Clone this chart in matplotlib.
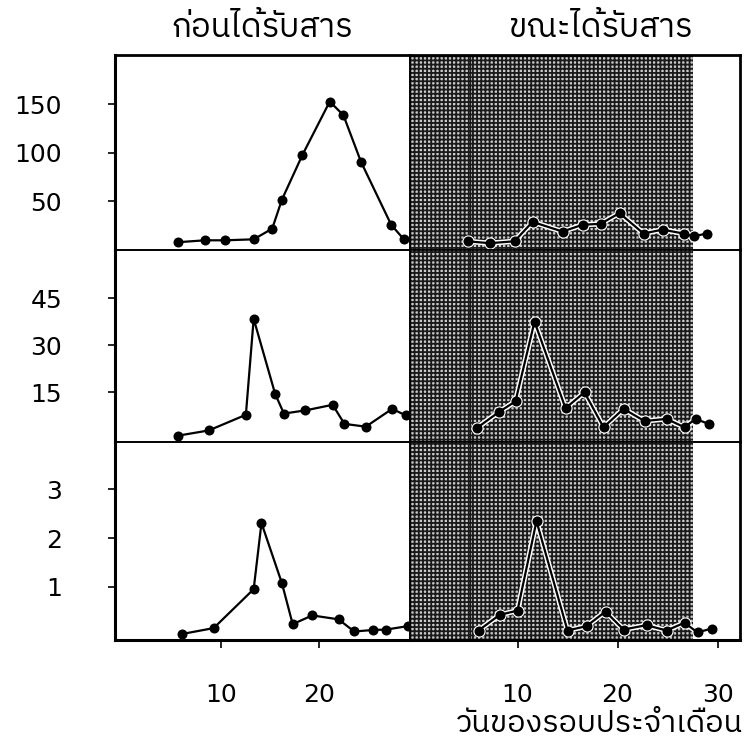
import matplotlib
matplotlib.use('Agg')
import matplotlib.pyplot as plt
from matplotlib import font_manager
from matplotlib.ft2font import FT2Font


# day of cycle / value, one pair of lists per panel
before_top_days = [5.5, 8.3, 10.4, 13.3, 15.2, 16.2, 18.3, 21.1, 22.5, 24.3, 27.4, 28.7]
before_top_vals = [8, 10, 10, 11, 22, 52, 98, 153, 139, 91, 26, 11]
during_top_days = [5.0, 7.2, 9.7, 11.5, 14.5, 16.5, 18.3, 20.2, 22.6, 24.5, 26.6, 27.6, 28.9]
during_top_vals = [9, 7, 9, 29, 19, 26, 27, 38, 17, 21, 17, 14, 17]

before_mid_days = [5.5, 8.7, 12.5, 13.3, 15.5, 16.4, 18.6, 21.4, 22.6, 24.8, 27.5, 28.9]
before_mid_vals = [1.1, 2.8, 7.8, 38.5, 14.5, 8.2, 9.2, 11.0, 4.9, 4.0, 9.7, 7.6]
during_mid_days = [5.9, 8.1, 9.8, 11.7, 14.8, 16.7, 18.6, 20.6, 22.7, 24.9, 26.7, 27.8, 29.1]
during_mid_vals = [3.5, 8.6, 12.1, 37.6, 9.9, 15.0, 3.8, 9.7, 5.8, 6.5, 3.8, 6.5, 4.9]

before_bot_days = [6.0, 9.2, 13.3, 14.1, 16.2, 17.3, 19.3, 22.0, 23.6, 25.5, 26.9, 29.1]
before_bot_vals = [0.03, 0.15, 0.95, 2.31, 1.07, 0.23, 0.41, 0.33, 0.08, 0.11, 0.12, 0.19]
during_bot_days = [6.1, 8.2, 10.0, 11.9, 15.0, 16.9, 18.8, 20.6, 22.9, 24.9, 26.7, 28.0, 29.4]
during_bot_vals = [0.10, 0.42, 0.51, 2.35, 0.10, 0.19, 0.49, 0.12, 0.21, 0.10, 0.26, 0.06, 0.14]

y_ticks = [[50, 100, 150], [15, 30, 45], [1, 2, 3]]
y_lims = [(0, 201), (-0.9, 60.5), (-0.095, 3.975)]
before_ticks = [10, 20]
during_ticks = [10, 20, 30]
treat_end = 27.55
treat_mark = 5.2

title_before = 'ก่อนได้รับสาร'
title_during = 'ขณะได้รับสาร'
x_title = 'วันของรอบประจำเดือน'


def thai_family():
    # pick any installed font that has Thai glyphs
    found = []
    for f in font_manager.fontManager.ttflist:
        try:
            if 0x0E01 in FT2Font(f.fname).get_charmap():
                found.append(f.name)
        except Exception:
            pass
    for name in found:
        if 'Thai' in name and 'Sans' in name:
            return name
    return found[0] if found else 'DejaVu Sans'


thai = thai_family()
plt.rcParams['hatch.linewidth'] = 1.3

W, H = 751, 752
fig = plt.figure(figsize=(W / 100, H / 100), dpi=100)

row_edges = [55, 250, 442, 640]
col_edges = [115, 410, 740]
col_xlim = [(-0.92, 29.33), (-0.75, 32.25)]

panels = [
    [(before_top_days, before_top_vals), (during_top_days, during_top_vals)],
    [(before_mid_days, before_mid_vals), (during_mid_days, during_mid_vals)],
    [(before_bot_days, before_bot_vals), (during_bot_days, during_bot_vals)],
]

for r in range(3):
    for c in range(2):
        x0, x1 = col_edges[c], col_edges[c + 1]
        y0, y1 = row_edges[r], row_edges[r + 1]
        ax = fig.add_axes([x0 / W, 1 - y1 / H, (x1 - x0) / W, (y1 - y0) / H])
        ax.set_xlim(*col_xlim[c])
        ax.set_ylim(*y_lims[r])
        ax.patch.set_alpha(0)

        days, vals = panels[r][c]
        if c == 1:
            # screened block for the treatment cycle
            ax.axvspan(col_xlim[1][0], treat_end, facecolor='#cbcbcb',
                       edgecolor='#1a1a1a', hatch='++++', lw=0, zorder=0)
            ax.axvline(treat_mark, color='#1a1a1a', lw=1.0, zorder=1)
            # thin white halo so the curve reads on the screen
            ax.plot(days, vals, color='white', lw=3.8, zorder=2, clip_on=False)
            ax.scatter(days, vals, s=78, color='white', linewidths=0,
                       zorder=2, clip_on=False)

        ax.plot(days, vals, color='black', lw=1.6, zorder=3, clip_on=False)
        ax.scatter(days, vals, s=52, color='black', linewidths=0,
                   zorder=4, clip_on=False)

        for side in ['left', 'right', 'top', 'bottom']:
            ax.spines[side].set_linewidth(1.2)
            ax.spines[side].set_color('black')
            ax.spines[side].set_zorder(5)
        if c == 0:
            ax.spines['left'].set_linewidth(2.2)
        else:
            ax.spines['right'].set_linewidth(2.0)
        if r == 0:
            ax.spines['top'].set_linewidth(2.0)
        if r == 2:
            ax.spines['bottom'].set_linewidth(2.2)

        if c == 0:
            ax.set_yticks(y_ticks[r])
            ax.tick_params(axis='y', direction='out', length=5, width=1.2,
                           pad=33, labelsize=18)
        else:
            ax.set_yticks([])

        if r == 2:
            ax.set_xticks(before_ticks if c == 0 else during_ticks)
            ax.tick_params(axis='x', direction='out', length=6, width=1.2,
                           pad=25, labelsize=18)
        else:
            ax.set_xticks([])

fig.text(262 / W, 1 - 28 / H, title_before, family=[thai, 'DejaVu Sans'],
         fontsize=23.5, ha='center', va='center')
fig.text(601 / W, 1 - 28 / H, title_during, family=[thai, 'DejaVu Sans'],
         fontsize=23.5, ha='center', va='center')
fig.text(743 / W, 1 - 723 / H, x_title, family=[thai, 'DejaVu Sans'],
         fontsize=22, ha='right', va='center')

fig.savefig('out.png', dpi=100, facecolor='white')
